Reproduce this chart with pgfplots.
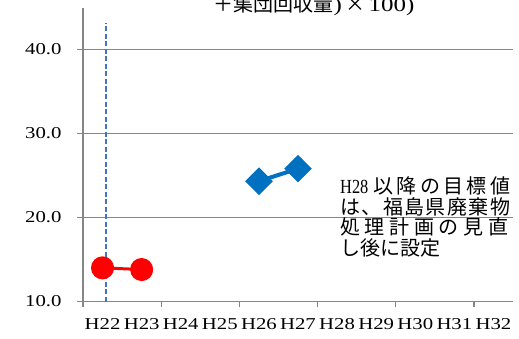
\documentclass[border=0pt]{standalone}
\usepackage{fontspec}
\setmainfont{Liberation Serif}[FakeStretch=1.25]
\newfontfamily\narrowserif{Liberation Serif}[FakeStretch=0.82]
\newfontfamily\cjk{Noto Sans CJK JP}
\usepackage{pgfplots}
\pgfplotsset{compat=1.18}

\definecolor{axisgray}{RGB}{134,134,134}
\definecolor{ptred}{RGB}{255,0,0}
\definecolor{ptblue}{RGB}{0,112,192}
\definecolor{refblue}{RGB}{68,114,196}

\newcommand{\cjkline}{\cjk\fontsize{20pt}{20pt}\selectfont}

\begin{document}
\begin{tikzpicture}[x=1pt,y=1pt]
\begin{axis}[
  at={(83pt,36.5pt)}, anchor=south west,
  scale only axis, width=430pt, height=293.5pt,
  xmin=-0.5, xmax=10.5, ymin=10, ymax=44.9,
  axis lines*=left,
  axis line style={axisgray, line width=1.3pt, -},
  xtick={-0.5,1.5,...,9.5}, xticklabels={},
  extra x ticks={0,1,...,10},
  extra x tick labels={H22,H23,H24,H25,H26,H27,H28,H29,H30,H31,H32},
  extra x tick style={major tick length=0pt, grid=none},
  xticklabel style={yshift=-13.5pt},
  ytick={10,20,30,40},
  yticklabel={\pgfmathprintnumber[fixed,fixed zerofill,precision=1]{\tick}},
  yticklabel style={xshift=-12.5pt},
  tick align=outside, major tick length=5.5pt,
  tick style={axisgray, line width=1.3pt},
  ymajorgrids, grid style={axisgray, line width=1.3pt},
  tick label style={font=\fontsize{16.6pt}{18pt}\selectfont},
  /pgf/number format/assume math mode=true,
  clip=false,
]
% actual values
\addplot[ptred, line width=3pt, mark=*, mark size=10pt]
  coordinates {(0,14.0) (1,13.8)};
% reference line
\addplot[refblue, line width=1.6pt, dash pattern=on 5pt off 2.5pt]
  coordinates {(0.09,10) (0.09,43.1)};
% later values
\addplot[ptblue, line width=4pt, mark=square*, mark size=7.8pt,
         mark options={rotate=45}]
  coordinates {(4,24.3) (5,25.8)};
\end{axis}

% title (upper part lies above the page)
\node[anchor=base, inner sep=0] at (314,326.5)
  {\fontsize{20pt}{20pt}\selectfont{\cjk ＋集団回収量})\,{\cjk ×}\,100)};

% note on the targets
\node[anchor=base west, inner sep=0] at (340,144.5)
  {\hbox to 170pt{{\narrowserif\fontsize{20pt}{20pt}\selectfont H28}\hskip 5pt\cjkline 以\hfil 降\hfil の\hfil 目\hfil 標\hfil 値}};
\node[anchor=base west, inner sep=0] at (340,123.5)
  {\hbox to 170pt{\cjkline は\hfil 、\hfil 福\hfil 島\hfil 県\hfil 廃\hfil 棄\hfil 物}};
\node[anchor=base west, inner sep=0] at (340,104)
  {\hbox to 168pt{\cjkline 処\hfil 理\hfil 計\hfil 画\hfil の\hfil 見\hfil 直}};
\node[anchor=base west, inner sep=0] at (340,83)
  {\cjkline し後に設定};

\pgfresetboundingbox
\path[use as bounding box] (0,0) rectangle (519,338);
\end{tikzpicture}
\end{document}
